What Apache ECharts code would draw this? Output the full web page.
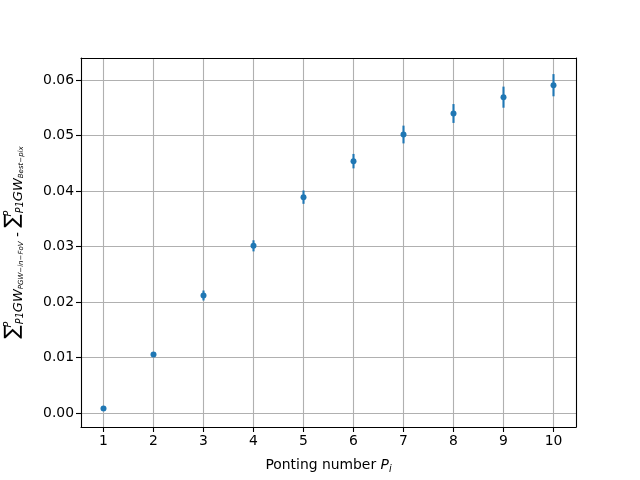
<!DOCTYPE html>
<html>
<head>
<meta charset="utf-8">
<script src="https://cdn.jsdelivr.net/npm/echarts@6/dist/echarts.min.js"></script>
<style>html,body{margin:0;padding:0;background:#fff}#c{width:640px;height:480px}</style>
</head>
<body>
<div id="c"></div>
<script>
const pointings = [1, 2, 3, 4, 5, 6, 7, 8, 9, 10];
const values = [0.00085, 0.01058, 0.02120, 0.03015, 0.03892, 0.04541, 0.05021, 0.05400, 0.05694, 0.05910];
const errors = [0.0003, 0.0003, 0.0009, 0.0010, 0.0012, 0.0013, 0.0016, 0.0017, 0.0019, 0.0020];
const xTicks = [1, 2, 3, 4, 5, 6, 7, 8, 9, 10];
const yTicks = [0, 0.01, 0.02, 0.03, 0.04, 0.05, 0.06];
const xLabel = 'Ponting number ';
const blue = '#1f77b4';

const data = pointings.map((p, i) => [p, values[i], errors[i]]);
const F = 'DejaVu Sans';

const yName = '{sig|∑}{sup|P}{sub|P1}{gw|GW}{ss|PGW−in−FoV}{sep| - }{sig|∑}{sup|P}{sub|P1}{gw|GW}{ss|Best−pix}';

const chart = echarts.init(document.getElementById('c'), null, {renderer: 'canvas'});
chart.setOption({
  animation: false,
  backgroundColor: '#fff',
  grid: {left: 81, right: 64, top: 58, bottom: 53, show: false, containLabel: false, outerBoundsMode: 'none'},
  xAxis: [{
    type: 'value', min: 0.55, max: 10.45, splitNumber: 10,
    axisLine: {show: true, onZero: false, lineStyle: {color: '#000', width: 1.1}},
    axisTick: {show: true, length: 5, lineStyle: {color: '#000', width: 1.1}, customValues: xTicks},
    axisLabel: {color: '#000', fontFamily: F, fontSize: 13.9, margin: 7, customValues: xTicks, formatter: v => String(v)},
    splitLine: {show: true, lineStyle: {color: '#b0b0b0', width: 1.1}},
    name: '{t|' + xLabel + '}{pi|P}{i|i}',
    nameLocation: 'middle', nameGap: 29,
    nameTextStyle: {rich: {
      t: {fontFamily: F, fontSize: 13.9, color: '#000', verticalAlign: 'middle', lineHeight: 18},
      pi: {fontFamily: F, fontSize: 13.9, fontStyle: 'italic', color: '#000', verticalAlign: 'middle', lineHeight: 18},
      i: {fontFamily: F, fontSize: 9.7, fontStyle: 'italic', color: '#000', verticalAlign: 'bottom', lineHeight: 12}
    }}
  }, {
    type: 'value', position: 'top', min: 0.55, max: 10.45,
    axisLine: {show: true, onZero: false, lineStyle: {color: '#000', width: 1.1}},
    axisTick: {show: false}, axisLabel: {show: false}, splitLine: {show: false}
  }],
  yAxis: [{
    type: 'value', min: -0.0025, max: 0.0640, splitNumber: 7,
    axisLine: {show: true, onZero: false, lineStyle: {color: '#000', width: 1.1}},
    axisTick: {show: true, length: 5, lineStyle: {color: '#000', width: 1.1}, customValues: yTicks},
    axisLabel: {color: '#000', fontFamily: F, fontSize: 13.9, margin: 7, customValues: yTicks, formatter: v => v.toFixed(2)},
    splitLine: {show: true, lineStyle: {color: '#b0b0b0', width: 1.1}},
    name: yName, nameLocation: 'middle', nameRotate: 90, nameGap: 56,
    nameTextStyle: {rich: {
      sig: {fontFamily: F, fontSize: 20, color: '#000', verticalAlign: 'top', lineHeight: 22},
      sup: {fontFamily: F, fontSize: 9.7, fontStyle: 'italic', color: '#000', verticalAlign: 'top', lineHeight: 16, width: 1},
      sub: {fontFamily: F, fontSize: 9.7, fontStyle: 'italic', color: '#000', verticalAlign: 'bottom', lineHeight: 8},
      gw: {fontFamily: F, fontSize: 13, fontStyle: 'italic', color: '#000', verticalAlign: 'bottom', lineHeight: 12},
      ss: {fontFamily: F, fontSize: 7, fontStyle: 'italic', color: '#000', verticalAlign: 'bottom', lineHeight: 4},
      sep: {fontFamily: F, fontSize: 13.9, color: '#000', verticalAlign: 'bottom', lineHeight: 16},
      pad: {lineHeight: 24}
    }}
  }, {
    type: 'value', position: 'right', min: -0.0025, max: 0.0640,
    axisLine: {show: true, onZero: false, lineStyle: {color: '#000', width: 1.1}},
    axisTick: {show: false}, axisLabel: {show: false}, splitLine: {show: false}
  }],
  series: [{
    type: 'custom',
    xAxisIndex: 0, yAxisIndex: 0,
    data: data,
    renderItem: (params, api) => {
      const x = api.value(0), y = api.value(1), e = api.value(2);
      const a = api.coord([x, y - e]);
      const b = api.coord([x, y + e]);
      return {type: 'line', shape: {x1: a[0], y1: a[1], x2: b[0], y2: b[1]},
        style: {stroke: blue, lineWidth: 2.1}};
    },
    z: 3
  }, {
    type: 'scatter',
    xAxisIndex: 0, yAxisIndex: 0,
    data: data.map(d => [d[0], d[1]]),
    symbol: 'circle', symbolSize: 6,
    itemStyle: {color: blue, opacity: 1},
    z: 4
  }]
});
</script>
</body>
</html>
